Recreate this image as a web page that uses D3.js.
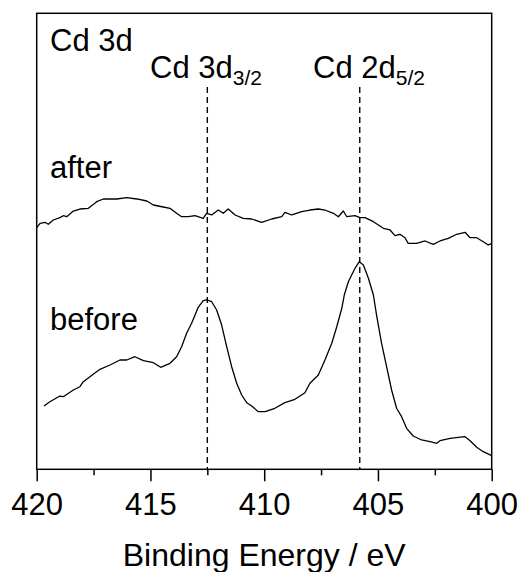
<!DOCTYPE html>
<html>
<head>
<meta charset="utf-8">
<script src="https://cdn.jsdelivr.net/npm/d3@7"></script>
<style>
  html, body { margin: 0; padding: 0; background: #fff; }
  svg { display: block; }
  text { font-family: Arial, "Liberation Sans", sans-serif; fill: #000; }
</style>
</head>
<body>
<svg id="chart" width="521" height="572"></svg>
<script>
// Binding energy (eV) and intensity (arb. units)
const afterEnergy = [420.0, 419.85, 419.64, 419.49, 419.27, 418.98, 418.83, 418.68, 418.39, 418.10,
  417.73, 417.36, 417.07, 416.48, 416.04, 415.60, 415.16, 414.87, 414.44, 414.14,
  413.85, 413.63, 413.34, 413.04, 412.68, 412.53, 412.31, 412.02, 411.80, 411.58,
  411.28, 410.92, 410.55, 410.11, 409.67, 409.23, 409.09, 408.79, 408.35, 407.99,
  407.62, 407.33, 406.96, 406.74, 406.52, 406.37, 406.01, 405.79, 405.57, 405.20,
  404.76, 404.47, 404.25, 404.03, 403.81, 403.67, 403.30, 402.93, 402.57, 402.27,
  401.91, 401.54, 401.17, 400.95, 400.66, 400.37, 400.15, 400.0];
const afterIntensity = [52.98, 53.95, 54.17, 53.73, 54.67, 55.18, 55.61, 55.39, 56.64, 57.08,
  57.24, 58.68, 59.28, 59.28, 59.56, 59.28, 58.84, 57.96, 57.52, 57.24,
  56.14, 55.39, 55.39, 55.61, 55.04, 56.14, 55.77, 56.86, 56.14, 57.08,
  55.77, 55.04, 54.89, 54.17, 54.89, 55.39, 56.36, 55.77, 56.49, 56.86,
  57.08, 56.86, 56.14, 55.39, 56.64, 55.39, 55.61, 55.18, 55.18, 54.30,
  52.85, 52.48, 51.23, 51.54, 50.79, 49.56, 49.56, 50.07, 49.34, 50.07,
  50.66, 51.54, 51.97, 50.79, 50.79, 49.91, 49.19, 49.56];

const beforeEnergy = [419.68, 419.42, 418.98, 418.83, 418.39, 418.10, 417.95, 417.66, 417.22, 416.78,
  416.34, 416.04, 415.68, 415.31, 414.87, 414.55, 414.14, 413.85, 413.63, 413.41,
  413.19, 412.90, 412.68, 412.53, 412.31, 412.09, 411.87, 411.65, 411.43, 411.21,
  410.99, 410.77, 410.55, 410.26, 409.96, 409.53, 409.09, 408.65, 408.21, 407.99,
  407.62, 407.33, 407.03, 406.81, 406.59, 406.48, 406.30, 406.01, 405.82, 405.64,
  405.42, 405.20, 405.05, 404.84, 404.62, 404.40, 404.18, 403.96, 403.74, 403.45,
  403.08, 402.71, 402.42, 402.27, 401.83, 401.47, 401.17, 400.95, 400.66, 400.37, 400.0];
const beforeIntensity = [13.88, 14.82, 16.07, 15.92, 17.39, 18.11, 19.21, 20.31, 21.93, 22.87,
  23.97, 23.97, 24.69, 23.82, 23.38, 22.37, 23.25, 24.69, 26.89, 29.82,
  32.02, 35.53, 36.97, 37.13, 36.75, 34.93, 31.64, 26.89, 22.50, 18.86,
  16.29, 14.61, 13.88, 12.63, 12.63, 13.38, 14.61, 15.35, 16.80, 18.86,
  20.68, 23.97, 27.63, 31.27, 35.31, 38.22, 41.14, 44.08, 45.53, 44.80,
  41.89, 38.22, 33.46, 27.63, 22.50, 17.39, 13.38, 11.54, 8.99, 7.30,
  6.43, 6.05, 5.70, 6.27, 6.80, 7.02, 7.15, 6.27, 4.82, 3.86, 2.98];

const majorTicks = [420, 415, 410, 405, 400];
const minorTicks = [417.5, 412.5, 407.5, 402.5];
const peakPositions = [412.5, 405.8];
const peakNames = [["Cd 3d", "3/2"], ["Cd 2d", "5/2"]];
const seriesLabels = ["after", "before"];
const panelLabel = "Cd 3d";
const xTitle = "Binding Energy / eV";

const svg = d3.select("#chart");
const L = 36.7, R = 491.7, T = 13.3, B = 469.3;

const x = d3.scaleLinear().domain([420, 400]).range([L, R]);
const y = d3.scaleLinear().domain([0, 100]).range([B, T]);

const line = d3.line().x(d => x(d[0])).y(d => y(d[1]));

// frame
svg.append("rect").attr("x", L).attr("y", T).attr("width", R - L).attr("height", B - T)
  .attr("fill", "none").attr("stroke", "#000").attr("stroke-width", 1.5);

// dashed peak lines
svg.selectAll("line.peak").data(peakPositions).join("line")
  .attr("class", "peak")
  .attr("x1", d => x(d)).attr("x2", d => x(d))
  .attr("y1", 87).attr("y2", B)
  .attr("stroke", "#000").attr("stroke-width", 1.4).attr("stroke-dasharray", "6,4");

// curves
const afterData = afterEnergy.map((e, i) => [e, afterIntensity[i]]);
const beforeData = beforeEnergy.map((e, i) => [e, beforeIntensity[i]]);
[afterData, beforeData].forEach(dat => {
  svg.append("path").datum(dat).attr("d", line)
    .attr("fill", "none").attr("stroke", "#000").attr("stroke-width", 1.3)
    .attr("stroke-linejoin", "round");
});

// x axis
const axisG = svg.append("g").attr("transform", `translate(0,${B})`);
const ax = d3.axisBottom(x).tickValues(majorTicks).tickFormat(d3.format("d"))
  .tickSize(12).tickPadding(4);
axisG.call(ax);
axisG.select(".domain").remove();
axisG.selectAll(".tick line").attr("stroke", "#000").attr("stroke-width", 1.5);
axisG.selectAll(".tick text").attr("font-size", 31).attr("font-family", "Arial, 'Liberation Sans', sans-serif")
  .attr("fill", "#000").attr("dy", "0.95em");
const minorG = svg.append("g").attr("transform", `translate(0,${B})`);
minorG.call(d3.axisBottom(x).tickValues(minorTicks).tickSize(6).tickFormat(""));
minorG.select(".domain").remove();
minorG.selectAll(".tick line").attr("stroke", "#000").attr("stroke-width", 1.5);

// axis title
svg.append("text").attr("x", (L + R) / 2).attr("y", 566).attr("text-anchor", "middle")
  .attr("font-size", 32).text(xTitle);

// labels
svg.append("text").attr("x", 50).attr("y", 50.7).attr("font-size", 31).text(panelLabel);
svg.append("text").attr("x", 50).attr("y", 178.3).attr("font-size", 31).text(seriesLabels[0]);
svg.append("text").attr("x", 50).attr("y", 330).attr("font-size", 31).text(seriesLabels[1]);

const peakLabelX = [150, 313];
peakNames.forEach((p, i) => {
  const t = svg.append("text").attr("x", peakLabelX[i]).attr("y", 78.3).attr("font-size", 31);
  t.append("tspan").text(p[0]);
  t.append("tspan").attr("font-size", 21).attr("dy", 7).text(p[1]);
});
</script>
</body>
</html>
